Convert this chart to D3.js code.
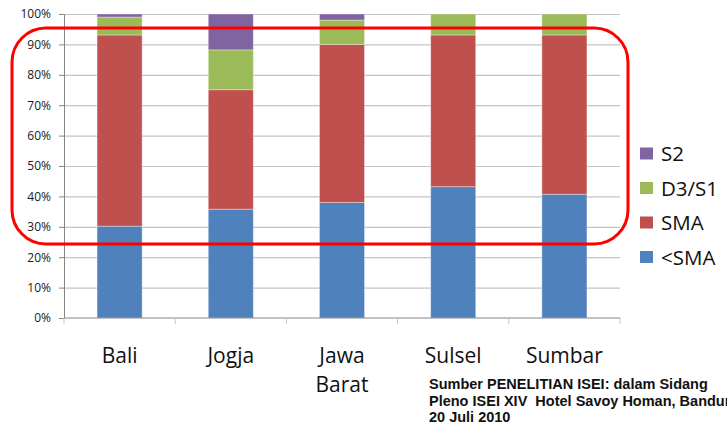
<!DOCTYPE html>
<html>
<head>
<meta charset="utf-8">
<script src="https://cdn.jsdelivr.net/npm/d3@7"></script>
<style>
  html, body { margin: 0; padding: 0; background: #fff; overflow: hidden; }
  svg { display: block; }
</style>
</head>
<body>
<div id="chart"></div>
<script>
// data (percent of respondents per province)
const categories = ["Bali", "Jogja", "Jawa Barat", "Sulsel", "Sumbar"];
const seriesNames = ["<SMA", "SMA", "D3/S1", "S2"];
const kurangSMA = [30.2, 35.8, 38.0, 43.2, 40.7];
const sma       = [62.9, 39.3, 52.0, 49.9, 52.4];
const d3s1      = [5.9, 13.1, 8.0, 6.9, 6.9];
const s2        = [1.0, 11.8, 2.0, 0, 0];
const yTicks = [0, 10, 20, 30, 40, 50, 60, 70, 80, 90, 100];
const sourceLines = [
  "Sumber PENELITIAN ISEI: dalam Sidang",
  "Pleno ISEI XIV  Hotel Savoy Homan, Bandung",
  "20 Juli 2010"
];

const colors = ["#4f81bd", "#c0504d", "#9bbb59", "#8064a2"];
const W = 727, H = 426;
const m = { top: 14, right: 107, bottom: 108, left: 64 };

const rows = categories.map((c, i) => ({
  cat: c, "<SMA": kurangSMA[i], "SMA": sma[i], "D3/S1": d3s1[i], "S2": s2[i]
}));
const stacked = d3.stack().keys(seriesNames)(rows);

const svg = d3.select("#chart").append("svg")
  .attr("width", W).attr("height", H)
  .style("font-family", "'Open Sans', sans-serif");

const x = d3.scaleBand().domain(categories)
  .range([m.left, W - m.right]).paddingInner(0.595).paddingOuter(0.2975);
const xb = d3.scaleBand().domain(categories).range([m.left, W - m.right]);
const y = d3.scaleLinear().domain([0, 100]).range([H - m.bottom, m.top]);

// gridlines
svg.append("g").selectAll("line").data(yTicks.slice(1)).join("line")
  .attr("x1", m.left).attr("x2", W - m.right)
  .attr("y1", d => y(d) + 0.5).attr("y2", d => y(d) + 0.5)
  .attr("stroke", "#c4c4c4").attr("stroke-width", 1.2);

// bars
svg.append("g").selectAll("g").data(stacked).join("g")
  .attr("fill", (d, i) => colors[i])
  .selectAll("rect").data(d => d).join("rect")
    .attr("x", d => x(d.data.cat))
    .attr("width", x.bandwidth())
    .attr("y", d => y(d[1]))
    .attr("height", d => y(d[0]) - y(d[1]))
    .attr("stroke", "#ffffff").attr("stroke-opacity", 0.35).attr("stroke-width", 1);

// y axis
const yAxis = svg.append("g")
  .attr("transform", `translate(${m.left},0)`)
  .call(d3.axisLeft(y).tickValues(yTicks).tickFormat(d => d + "%").tickSize(5).tickPadding(8));
yAxis.select(".domain").attr("stroke", "#868686");
yAxis.selectAll(".tick line").attr("stroke", "#868686");
yAxis.selectAll(".tick text").attr("font-size", 12).attr("fill", "#1a1a1a")
  .attr("font-family", "'Open Sans', sans-serif");

// x axis
const xAxis = svg.append("g").attr("transform", `translate(0,${y(0)})`);
xAxis.append("line").attr("x1", m.left).attr("x2", W - m.right)
  .attr("stroke", "#868686");
xAxis.selectAll("line.tk").data(categories.concat(["end"])).join("line")
  .attr("class", "tk")
  .attr("x1", (d, i) => m.left + i * xb.step()).attr("x2", (d, i) => m.left + i * xb.step())
  .attr("y1", 0).attr("y2", 6).attr("stroke", "#c4c4c4");

// category labels
svg.append("g").selectAll("text").data(categories).join("text")
  .attr("x", d => xb(d) + xb.bandwidth() / 2)
  .attr("y", 363)
  .attr("text-anchor", "middle")
  .attr("font-size", 21).attr("fill", "#111")
  .each(function (d) {
    const words = d.split(" ");
    const t = d3.select(this);
    words.forEach((w, i) => t.append("tspan")
      .attr("x", xb(d) + xb.bandwidth() / 2)
      .attr("dy", i ? 28.5 : 0).text(w));
  });

// legend
const leg = svg.append("g");
const legOrder = seriesNames.map((n, i) => ({ n, c: colors[i] })).reverse();
leg.selectAll("rect").data(legOrder).join("rect")
  .attr("x", 640).attr("y", (d, i) => 147.5 + i * 34.5)
  .attr("width", 13).attr("height", 12).attr("fill", d => d.c);
leg.selectAll("text").data(legOrder).join("text")
  .attr("x", 661).attr("y", (d, i) => 161 + i * 34.5)
  .attr("font-size", 20.5).attr("fill", "#111").text(d => d.n);

// highlight frame
svg.append("rect")
  .attr("x", 12).attr("y", 28).attr("width", 616).attr("height", 216)
  .attr("rx", 34).attr("ry", 34)
  .attr("fill", "none").attr("stroke", "#ff0000").attr("stroke-width", 3);

// source note
svg.append("g").selectAll("text").data(sourceLines).join("text")
  .attr("x", 429).attr("y", (d, i) => 389 + i * 16.5)
  .attr("font-family", "'Liberation Sans', Arial, sans-serif")
  .attr("font-weight", "bold").attr("font-size", 14.5).attr("fill", "#111")
  .style("white-space", "pre")
  .text(d => d);
</script>
</body>
</html>
